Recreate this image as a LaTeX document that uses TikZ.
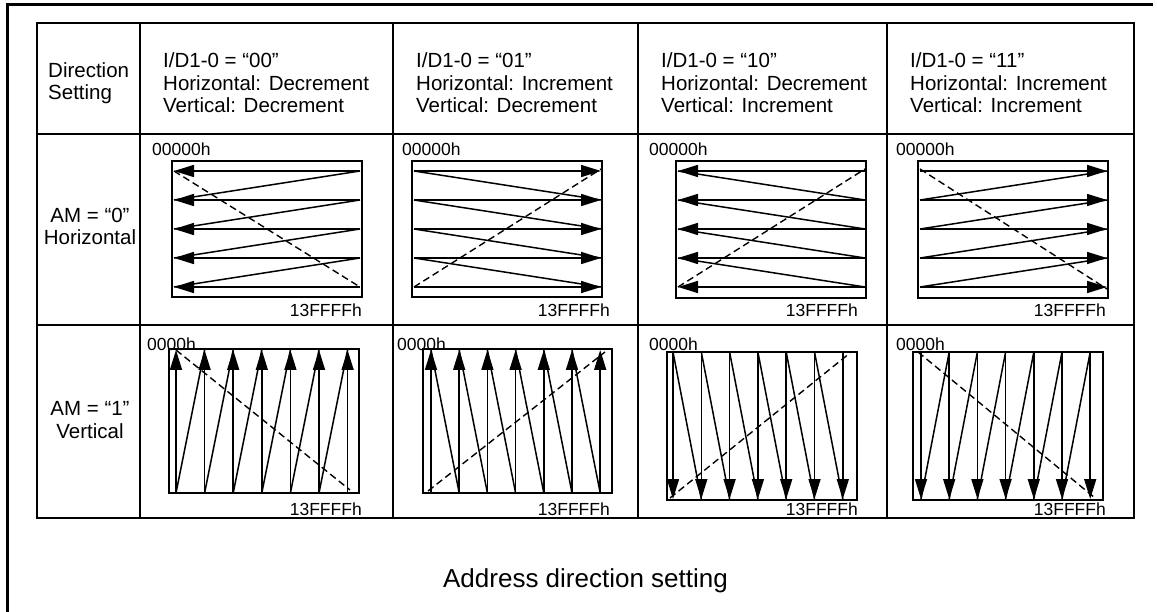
\documentclass[tikz,border=0pt]{standalone}
\usepackage{fontspec}
\setmainfont{Liberation Sans}
\usetikzlibrary{arrows.meta}
\tikzset{
  frameline/.style={line width=3pt},
  gridline/.style={line width=1.8pt},
  cellbox/.style={line width=1.7pt},
  scanarrow/.style={line width=1.6pt, -{Triangle[length=20pt,width=12pt]}},
  retline/.style={line width=1.5pt},
  diagline/.style={line width=1.4pt, dash pattern=on 7pt off 4pt},
  hdr/.style={font=\fontsize{20.5}{22.5}\selectfont, align=left, inner sep=0pt},
  rowlbl/.style={font=\fontsize{20.5}{22.5}\selectfont, align=center, inner sep=0pt},
  addr/.style={font=\fontsize{17.5}{20}\selectfont, inner sep=0pt},
  ttl/.style={font=\fontsize{26}{28}\selectfont, inner sep=0pt}
}
\begin{document}
\begin{tikzpicture}[x=1pt,y=-1pt]
\useasboundingbox (0,0) rectangle (1157,612);
% outer frame
\draw[frameline] (1153,5) -- (7,5) -- (7,614);
% table
\draw[gridline] (37,23) rectangle (1134,518);
\foreach \xx in {140,393,638,887} \draw[gridline] (\xx,23) -- (\xx,518);
\draw[gridline] (37,134) -- (1134,134);
\draw[gridline] (37,325) -- (1134,325);
% header texts (base = baseline of last line)
\node[hdr, anchor=base west] (h0) at (48,100) {Direction\\Setting};
\node[hdr, anchor=base west] (h1) at (163,113) {I/D1-0 = “00”\\Horizontal: Decrement\\Vertical: Decrement};
\node[hdr, anchor=base west] (h2) at (416,113) {I/D1-0 = “01”\\Horizontal: Increment\\Vertical: Decrement};
\node[hdr, anchor=base west] (h3) at (661,113) {I/D1-0 = “10”\\Horizontal: Decrement\\Vertical: Increment};
\node[hdr, anchor=base west] (h4) at (910,113) {I/D1-0 = “11”\\Horizontal: Increment\\Vertical: Increment};
% row labels
\node[rowlbl, anchor=base] (r0) at (90,245) {AM = “0”\\Horizontal};
\node[rowlbl, anchor=base] (r1) at (90,438) {AM = “1”\\Vertical};
% address labels
\foreach \xx/\nm in {152/a,402/b,649/c,896/d} \node[addr, anchor=base west] (s\nm) at (\xx,156) {00000h};
\foreach \xx/\nm in {147/a,397/b,649/c,896/d} \node[addr, anchor=base west] (t\nm) at (\xx,351) {0000h};
\foreach \xx/\nm in {362/a,610/b,858/c,1106/d} \node[addr, anchor=base east] (e\nm) at (\xx,317) {13FFFFh};
\foreach \xx/\nm in {362/a,610/b,858/c,1106/d} \node[addr, anchor=base east] (f\nm) at (\xx,515) {13FFFFh};
% ===== Row AM=0 (horizontal) =====
% col 1
\draw[cellbox] (172,161) rectangle (362,297);
\foreach \i in {0,...,4} \draw[scanarrow] (360,{171+29*\i}) -- (174,{171+29*\i});
\foreach \i in {0,...,3} \draw[retline] (174,{200+29*\i}) -- (360,{171+29*\i});
\draw[diagline] (174,171) -- (360,287);
% col 2
\draw[cellbox] (412,161) rectangle (602,297);
\foreach \i in {0,...,4} \draw[scanarrow] (414,{171+29*\i}) -- (601,{171+29*\i});
\foreach \i in {0,...,3} \draw[retline] (414,{171+29*\i}) -- (601,{200+29*\i});
\draw[diagline] (414,287) -- (601,169);
% col 3
\draw[cellbox] (676,161) rectangle (866,298);
\foreach \i in {0,...,4} \draw[scanarrow] (865,{171+29*\i}) -- (678,{171+29*\i});
\foreach \i in {0,...,3} \draw[retline] (678,{171+29*\i}) -- (865,{200+29*\i});
\draw[diagline] (678,287) -- (865,169);
% col 4
\draw[cellbox] (918,161) rectangle (1108,298);
\foreach \i in {0,...,4} \draw[scanarrow] (920,{171+29*\i}) -- (1107,{171+29*\i});
\foreach \i in {0,...,3} \draw[retline] (920,{200+29*\i}) -- (1107,{171+29*\i});
\draw[diagline] (920,169) -- (1107,289);
% ===== Row AM=1 (vertical) =====
% col 1
\draw[cellbox] (169,349) rectangle (359,493);
\foreach \i in {0,...,6} \draw[scanarrow] ({176+28.6*\i},493) -- ({176+28.6*\i},350);
\foreach \i in {0,...,5} \draw[retline] ({176+28.6*\i},493) -- ({176+28.6*(\i+1)},350);
\draw[diagline] (176,350) -- (350,490);
% col 2
\draw[cellbox] (423,349) rectangle (612,493);
\foreach \i in {0,...,6} \draw[scanarrow] ({431+28.2*\i},493) -- ({431+28.2*\i},350);
\foreach \i in {0,...,5} \draw[retline] ({431+28.2*\i},350) -- ({431+28.2*(\i+1)},493);
\draw[diagline] (428,491) -- (605,352);
% col 3
\draw[cellbox] (667,352) rectangle (857,500);
\foreach \i in {0,...,6} \draw[scanarrow] ({673+28.3*\i},352) -- ({673+28.3*\i},499);
\foreach \i in {0,...,5} \draw[retline] ({673+28.3*\i},352) -- ({673+28.3*(\i+1)},499);
\draw[diagline] (670,498) -- (850,353);
% col 4
\draw[cellbox] (913,352) rectangle (1103,500);
\foreach \i in {0,...,6} \draw[scanarrow] ({921+28.2*\i},352) -- ({921+28.2*\i},499);
\foreach \i in {0,...,5} \draw[retline] ({921+28.2*\i},499) -- ({921+28.2*(\i+1)},352);
\draw[diagline] (918,352) -- (1095,498);
% title
\node[ttl, anchor=base] (title) at (585.5,587) {Address direction setting};
\end{tikzpicture}
\end{document}
